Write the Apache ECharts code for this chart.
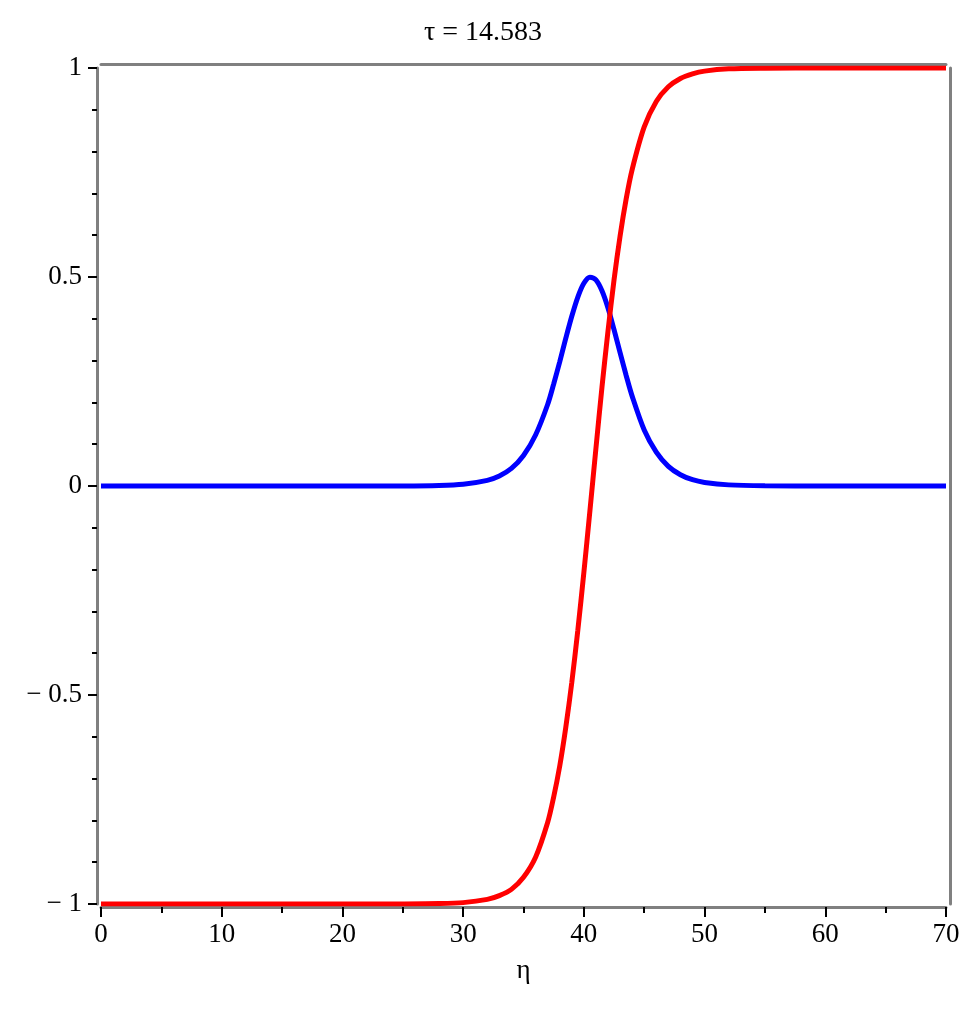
<!DOCTYPE html>
<html>
<head>
<meta charset="utf-8">
<script src="https://cdn.jsdelivr.net/npm/echarts@6/dist/echarts.min.js"></script>
<style>
  html, body { margin: 0; padding: 0; background: #fff; }
  #main { width: 975px; height: 1011px; }
</style>
</head>
<body>
<div id="main"></div>
<script>
// values
var titleText = 'τ = 14.583';
var eta = [0, 10, 20, 25, 28, 30, 32, 33, 34, 35, 36, 37, 37.5, 38, 38.5, 39, 39.5, 40, 40.5, 41,
           41.5, 42, 42.5, 43, 43.5, 44, 45, 46, 47, 48, 49, 50, 52, 55, 60, 70];
var redVals = [-1, -1, -1, -0.9998, -0.999, -0.9967, -0.989, -0.980, -0.965, -0.936, -0.888, -0.805, -0.744, -0.670, -0.578, -0.470, -0.345, -0.207, -0.060, 0.090,
               0.236, 0.371, 0.493, 0.598, 0.686, 0.757, 0.859, 0.920, 0.955, 0.975, 0.986, 0.9925, 0.998, 0.9996, 1, 1];
var blueVals = [0, 0, 0, 0.0002, 0.0013, 0.0043, 0.0136, 0.024, 0.042, 0.073, 0.122, 0.195, 0.244, 0.297, 0.353, 0.406, 0.452, 0.485, 0.4996, 0.493,
                0.467, 0.426, 0.374, 0.319, 0.265, 0.215, 0.134, 0.081, 0.047, 0.027, 0.015, 0.0086, 0.0027, 0.0005, 0, 0];

var font = 'Liberation Serif';
var frameColor = '#808080';

function pairs(xs, ys) {
    var out = [];
    for (var i = 0; i < xs.length; i++) {
        out.push([xs[i], ys[i]]);
    }
    return out;
}

var chart = echarts.init(document.getElementById('main'), null, { renderer: 'canvas' });

var option = {
    animation: false,
    title: {
        text: titleText,
        left: 478,
        top: 14,
        textAlign: 'center',
        textStyle: { fontFamily: font, fontSize: 28, fontWeight: 'normal', color: '#000' }
    },
    grid: { left: 101, right: 29, top: 68, bottom: 107 },
    xAxis: [{
        type: 'value',
        min: 0,
        max: 70,
        interval: 10,
        offset: 3,
        name: 'η',
        nameLocation: 'middle',
        nameGap: 50,
        nameTextStyle: { fontFamily: font, fontSize: 27, color: '#000' },
        axisLine: { show: true, onZero: false, lineStyle: { color: frameColor, width: 3 } },
        axisTick: { show: true, length: 10, lineStyle: { color: '#000', width: 2 } },
        minorTick: { show: true, splitNumber: 2, length: 6, lineStyle: { color: '#000', width: 2 } },
        splitLine: { show: false },
        axisLabel: { margin: 14, fontFamily: font, fontSize: 27, color: '#000' }
    }, {
        type: 'value',
        position: 'top',
        min: 0,
        max: 70,
        offset: 4,
        axisLine: { show: true, onZero: false, lineStyle: { color: frameColor, width: 3 } },
        axisTick: { show: false },
        axisLabel: { show: false },
        splitLine: { show: false }
    }],
    yAxis: [{
        type: 'value',
        min: -1,
        max: 1,
        interval: 0.5,
        offset: 4,
        axisLine: { show: true, onZero: false, lineStyle: { color: frameColor, width: 3 } },
        axisTick: { show: true, length: 9, lineStyle: { color: '#000', width: 2 } },
        minorTick: { show: true, splitNumber: 5, length: 5, lineStyle: { color: '#000', width: 2 } },
        splitLine: { show: false },
        axisLabel: {
            margin: 15,
            fontFamily: font,
            fontSize: 27,
            color: '#000',
            formatter: function (v) {
                return v < 0 ? '\u2212 ' + Math.abs(v) : String(v);
            }
        }
    }, {
        type: 'value',
        position: 'right',
        min: -1,
        max: 1,
        offset: 4,
        axisLine: { show: true, onZero: false, lineStyle: { color: frameColor, width: 3 } },
        axisTick: { show: false },
        axisLabel: { show: false },
        splitLine: { show: false }
    }],
    series: [{
        name: 'red',
        type: 'line',
        data: pairs(eta, redVals),
        smooth: 0.3,
        showSymbol: false,
        lineStyle: { color: '#ff0000', width: 5 },
        z: 3
    }, {
        name: 'blue',
        type: 'line',
        data: pairs(eta, blueVals),
        smooth: 0.3,
        showSymbol: false,
        lineStyle: { color: '#0000ff', width: 5 },
        z: 2
    }]
};
chart.setOption(option);
</script>
</body>
</html>
